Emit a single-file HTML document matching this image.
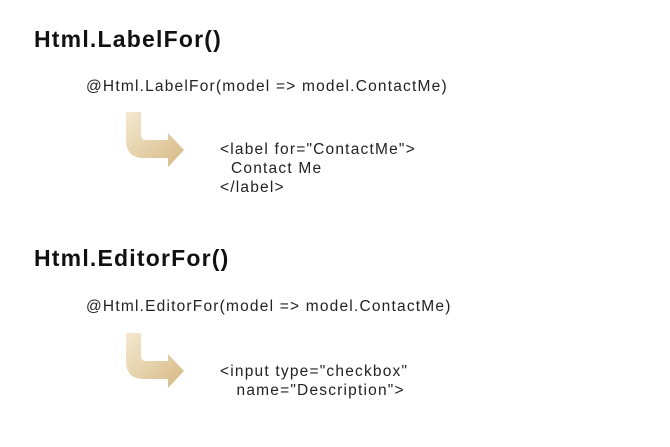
<!DOCTYPE html>
<html><head><style>
body{margin:0;width:670px;height:447px;background:#fff;position:relative;overflow:hidden;font-family:"Liberation Sans",sans-serif;color:#111}
.h{position:absolute;left:34px;font-weight:bold;font-size:23px;letter-spacing:1.2px}
.t{position:absolute;font-size:15.5px;line-height:19px;white-space:pre;letter-spacing:1.2px;color:#222}
svg{position:absolute}
</style></head><body>
<div class="h" style="top:26px">Html.LabelFor()</div>
<div class="t" style="left:86px;top:77px">@Html.LabelFor(model =&gt; model.ContactMe)</div>
<div class="t" style="left:220px;top:140px">&lt;label for="ContactMe"&gt;
  Contact Me
&lt;/label&gt;</div>
<div class="h" style="top:245px">Html.EditorFor()</div>
<div class="t" style="left:86px;top:297px">@Html.EditorFor(model =&gt; model.ContactMe)</div>
<div class="t" style="left:220px;top:362px">&lt;input type="checkbox"
   name="Description"&gt;</div>
<svg width="670" height="447">
<defs><linearGradient id="g" x1="0" y1="0" x2="1" y2="1">
<stop offset="0" stop-color="#f4e8d0"/><stop offset="1" stop-color="#d6b983"/></linearGradient></defs>
<g id="a">
<path d="M126 112 H141 V135 Q141 140 146 140 H168 V133 L184 150 L168 167 V158 H144 Q126 158 126 140 Z" fill="url(#g)"/>
</g>
<use href="#a" y="221"/>
</svg>
</body></html>
